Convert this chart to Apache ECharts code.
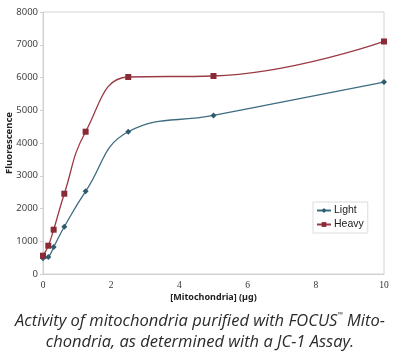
<!DOCTYPE html>
<html>
<head>
<meta charset="utf-8">
<script src="https://cdn.jsdelivr.net/npm/echarts@6/dist/echarts.min.js"></script>
<style>
  html, body { margin: 0; padding: 0; background: #fff; }
  #main { width: 400px; height: 354px; }
</style>
</head>
<body>
<div id="main"></div>
<script>
// amounts of mitochondria (µg)
let xLight = [0, 0.156, 0.3125, 0.625, 1.25, 2.5, 5, 10];
let yLight = [480, 520, 824, 1444, 2523, 4345, 4843, 5862];
let xHeavy = [0, 0.156, 0.3125, 0.625, 1.25, 2.5, 5, 10];
let yHeavy = [559, 864, 1353, 2452, 4345, 6015, 6046, 7100];

let myChart = echarts.init(document.getElementById('main'));

function pairs(xs, ys){
    return xs.map((x, i) => [x, ys[i]]);
}

myChart.setOption({
    animation: false,
    title: {
        text: 'Activity of mitochondria purified with FOCUS{tm|™} Mito-\nchondria, as determined with a JC-1 Assay.',
        left: 'center',
        top: 306,
        textStyle: {
            fontFamily: 'Open Sans',
            fontStyle: 'italic',
            fontWeight: 'normal',
            fontSize: 16.5,
            lineHeight: 21,
            color: '#2b2b2b',
            rich: {
                tm: { fontSize: 7, verticalAlign: 'top', fontStyle: 'normal', color: '#2b2b2b', lineHeight: 21, padding: [0, 0, 8, 0] }
            }
        }
    },
    legend: {
        orient: 'vertical',
        left: 313,
        top: 202,
        itemWidth: 14,
        itemHeight: 6,
        itemGap: 3,
        padding: [3, 4, 3, 3],
        borderColor: '#dcdcdc',
        borderWidth: 1,
        textStyle: { fontFamily: 'Liberation Sans', fontSize: 10.5, color: '#222', padding: [0, 0, 0, -2] },
        data: ['Light', 'Heavy']
    },
    grid: {
        left: 43,
        right: 16,
        top: 12,
        bottom: 80,
        containLabel: false,
        outerBoundsMode: 'none',
        show: true,
        borderColor: '#d4d4d4',
        borderWidth: 1
    },
    xAxis: {
        type: 'value',
        min: 0,
        max: 10,
        interval: 2,
        name: '[Mitochondria] (µg)',
        nameLocation: 'middle',
        nameGap: 19,
        nameMoveOverlap: false,
        nameTextStyle: { fontFamily: 'Noto Sans', fontWeight: 'bold', fontSize: 9, color: '#222' },
        axisLine: { lineStyle: { color: '#d0d0d0' } },
        axisTick: { show: false },
        axisLabel: { fontFamily: 'Liberation Serif', fontSize: 9.5, color: '#333', margin: 6 },
        splitLine: { show: false }
    },
    yAxis: {
        type: 'value',
        min: 0,
        max: 8000,
        interval: 1000,
        name: 'Fluorescence',
        nameLocation: 'middle',
        nameGap: 29,
        nameMoveOverlap: false,
        nameTextStyle: { fontFamily: 'Noto Sans', fontWeight: 'bold', fontSize: 9.5, color: '#222' },
        axisLine: { show: true, lineStyle: { color: '#d0d0d0' } },
        axisTick: { show: true, length: 3, lineStyle: { color: '#d0d0d0' } },
        axisLabel: { fontFamily: 'Noto Sans', fontSize: 9.5, color: '#444', margin: 5, formatter: v => String(v) },
        splitLine: { show: false }
    },
    series: [
        {
            name: 'Light',
            type: 'line',
            smooth: 0.45,
            symbol: 'diamond',
            symbolSize: 6,
            data: pairs(xLight, yLight),
            itemStyle: { color: '#2f5b6e' },
            lineStyle: { color: '#3d6c80', width: 1.3 },
            z: 3
        },
        {
            name: 'Heavy',
            type: 'line',
            smooth: 0.45,
            symbol: 'rect',
            symbolSize: 6,
            data: pairs(xHeavy, yHeavy),
            itemStyle: { color: '#8a2a36' },
            lineStyle: { color: '#9a3a44', width: 1.3 },
            z: 4
        }
    ]
});
</script>
</body>
</html>
